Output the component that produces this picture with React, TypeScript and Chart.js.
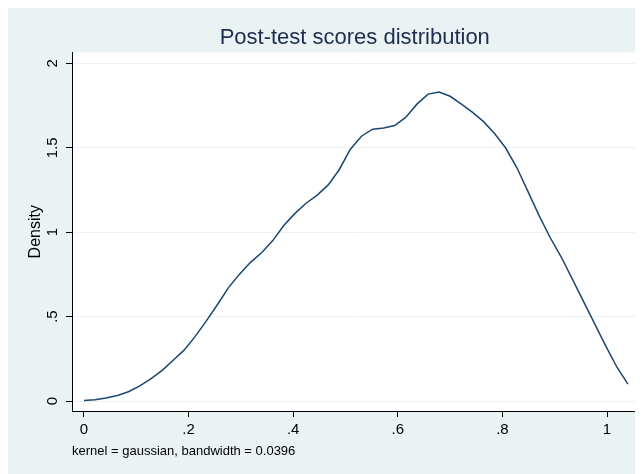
import React, { useEffect, useRef } from 'react';
import { Chart, registerables } from 'chart.js';

Chart.register(...registerables);

const xValues = [
  0.0, 0.021, 0.042, 0.064, 0.085, 0.106, 0.127, 0.149, 0.17, 0.191,
  0.212, 0.233, 0.255, 0.276, 0.297, 0.318, 0.34, 0.361, 0.382, 0.403,
  0.424, 0.446, 0.467, 0.488, 0.509, 0.531, 0.552, 0.573, 0.594, 0.615,
  0.637, 0.658, 0.679, 0.7, 0.721, 0.743, 0.764, 0.785, 0.806, 0.828,
  0.849, 0.87, 0.891, 0.913, 0.934, 0.955, 0.976, 0.997, 1.019, 1.04,
];

const densityValues = [
  0.003, 0.008, 0.018, 0.033, 0.055, 0.088, 0.13, 0.18, 0.24, 0.3,
  0.38, 0.47, 0.57, 0.67, 0.75, 0.82, 0.88, 0.95, 1.04, 1.11,
  1.17, 1.22, 1.28, 1.37, 1.49, 1.57, 1.61, 1.617, 1.632, 1.68,
  1.76, 1.818, 1.83, 1.805, 1.76, 1.71, 1.655, 1.585, 1.5, 1.38,
  1.24, 1.1, 0.97, 0.85, 0.72, 0.59, 0.46, 0.33, 0.2, 0.1,
];

const xTickValues = [0, 0.2, 0.4, 0.6, 0.8, 1];
const xTickLabels = ['0', '.2', '.4', '.6', '.8', '1'];
const yTickValues = [0, 0.5, 1, 1.5, 2];
const yTickLabels = ['0', '.5', '1', '1.5', '2'];

const titleText = 'Post-test scores distribution';
const yAxisTitle = 'Density';
const noteText = 'kernel = gaussian, bandwidth = 0.0396';

const FONT = "'Liberation Sans', Arial, Helvetica, sans-serif";
const OUTER_BG = '#EAF2F3';
const LINE_COLOR = '#1a476f';

const backgroundPlugin = {
  id: 'stataBackground',
  beforeDraw(chart: any) {
    const { ctx, chartArea, width, height } = chart;
    ctx.save();
    ctx.fillStyle = OUTER_BG;
    ctx.fillRect(0, 0, width, height);
    ctx.fillStyle = '#ffffff';
    ctx.fillRect(chartArea.left, chartArea.top, chartArea.right - chartArea.left, chartArea.bottom - chartArea.top);
    ctx.restore();
  },
};

export default function App() {
  const canvasRef = useRef<HTMLCanvasElement | null>(null);

  useEffect(() => {
    if (!canvasRef.current) return;
    Chart.defaults.font.family = FONT;
    const chart = new Chart(canvasRef.current, {
      type: 'scatter',
      data: {
        datasets: [
          {
            data: xValues.map((x, i) => ({ x, y: densityValues[i] })),
            showLine: true,
            borderColor: LINE_COLOR,
            borderWidth: 1.5,
            pointRadius: 0,
            tension: 0,
            fill: false,
          },
        ],
      },
      options: {
        responsive: false,
        animation: false,
        devicePixelRatio: 1,
        layout: { padding: { left: 0, right: 5.5, top: 0, bottom: 0 } },
        plugins: {
          legend: { display: false },
          tooltip: { enabled: false },
          title: {
            display: true,
            text: titleText,
            fullSize: false,
            color: '#1e2d4f',
            font: { size: 22, weight: 'normal', family: FONT },
            padding: { top: 17, bottom: 1 },
          },
        },
        scales: {
          x: {
            type: 'linear',
            min: -0.0229,
            max: 1.0583,
            afterBuildTicks: (scale: any) => {
              scale.ticks = xTickValues.map((v) => ({ value: v }));
            },
            afterFit: (scale: any) => {
              scale.height = 63;
            },
            ticks: {
              autoSkip: false,
              maxRotation: 0,
              minRotation: 0,
              padding: 4,
              color: '#000',
              font: { size: 15, family: FONT },
              callback: (value: any) => {
                const i = xTickValues.findIndex((v) => Math.abs(v - value) < 1e-9);
                return i >= 0 ? xTickLabels[i] : '';
              },
            },
            grid: {
              drawOnChartArea: false,
              tickLength: 6,
              tickColor: '#000',
              color: '#000',
            },
            border: { display: true, color: '#000', width: 1 },
            title: {
              display: true,
              text: noteText,
              align: 'start',
              color: '#000',
              font: { size: 13, family: FONT },
              padding: { top: 0, bottom: 15 },
            },
          },
          y: {
            type: 'linear',
            min: -0.0592,
            max: 2.065,
            afterBuildTicks: (scale: any) => {
              scale.ticks = yTickValues.map((v) => ({ value: v }));
            },
            afterFit: (scale: any) => {
              scale.width = 64;
            },
            ticks: {
              autoSkip: false,
              minRotation: 90,
              maxRotation: 90,
              crossAlign: 'center',
              padding: 3,
              color: '#000',
              font: { size: 15, family: FONT },
              callback: (value: any) => {
                const i = yTickValues.findIndex((v) => Math.abs(v - value) < 1e-9);
                return i >= 0 ? yTickLabels[i] : '';
              },
            },
            grid: {
              drawOnChartArea: true,
              color: OUTER_BG,
              lineWidth: 1,
              tickLength: 6,
              tickColor: '#000',
            },
            border: { display: true, color: '#000', width: 1 },
            title: {
              display: true,
              text: yAxisTitle,
              color: '#000',
              font: { size: 16, family: FONT },
              padding: { top: 18, bottom: 0 },
            },
          },
        },
      },
      plugins: [backgroundPlugin],
    } as any);
    return () => chart.destroy();
  }, []);

  return (
    <div style={{ width: 635, height: 466 }}>
      <canvas ref={canvasRef} width={635} height={466} style={{ display: 'block' }} />
    </div>
  );
}
